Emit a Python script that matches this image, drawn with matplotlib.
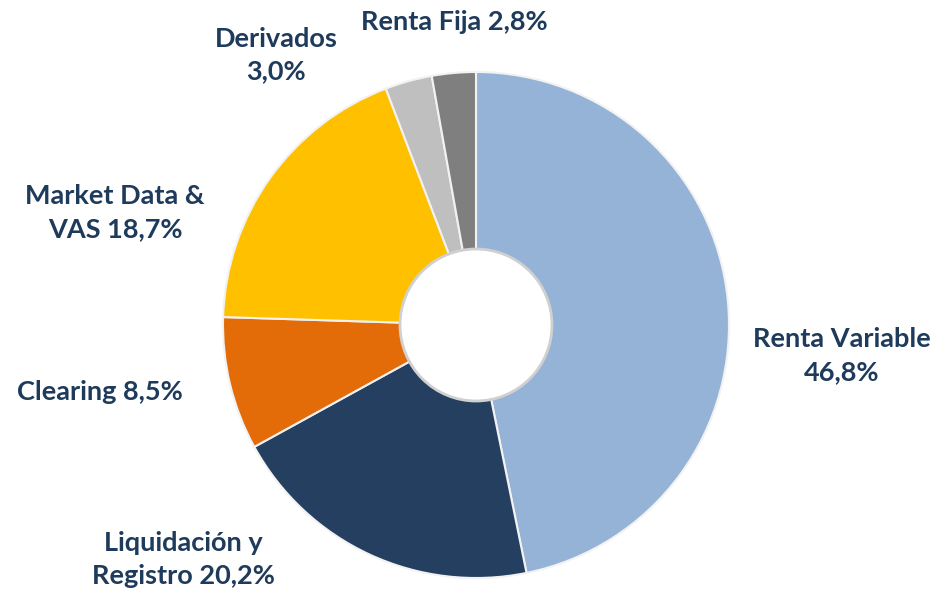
import matplotlib.pyplot as plt
from matplotlib.patches import Circle

segments = ['Renta Variable', 'Liquidación y Registro', 'Clearing', 'Market Data & VAS', 'Derivados', 'Renta Fija']
shares = [46.8, 20.2, 8.5, 18.7, 3.0, 2.8]
colors = ['#95B3D7', '#243F60', '#E36C09', '#FFC000', '#BFBFBF', '#7F7F7F']

# label text layout (line breaks as in the original) and pixel anchor
label_fmt = ['Renta Variable\n{}', 'Liquidación y\nRegistro {}', 'Clearing {}',
             'Market Data &\nVAS {}', 'Derivados\n{}', 'Renta Fija {}']
label_pos = [(842, 356), (183, 560), (100, 392), (115, 213), (276, 55), (454, 22)]

text_color = '#1F3B5C'


def main():
  fig = plt.figure(figsize=(9.37, 5.94), dpi=100)
  ax = fig.add_axes([0, 0, 1, 1])
  ax.set_xlim(0, 937)
  ax.set_ylim(-594, 0)
  ax.set_aspect('equal')
  ax.axis('off')

  cx, cy, r = 476, -325, 253
  ax.pie(shares, colors=colors, startangle=90, counterclock=False,
         center=(cx, cy), radius=r,
         wedgeprops=dict(edgecolor='#F2F2F2', linewidth=1.5))
  ax.add_patch(Circle((cx, cy), 76, facecolor='white', edgecolor='#D0D0D0', lw=2, zorder=5))

  for fmt, val, (x, y) in zip(label_fmt, shares, label_pos):
    txt = fmt.format(('%.1f%%' % val).replace('.', ','))
    ax.text(x, -y, txt, ha='center', va='center', fontsize=19.5, color=text_color,
            family='Lato', fontweight='bold', linespacing=1.45)

  ax.set_xlim(0, 937)
  ax.set_ylim(-594, 0)
  fig.savefig('out.png', dpi=100)


if __name__ == '__main__':
  main()
